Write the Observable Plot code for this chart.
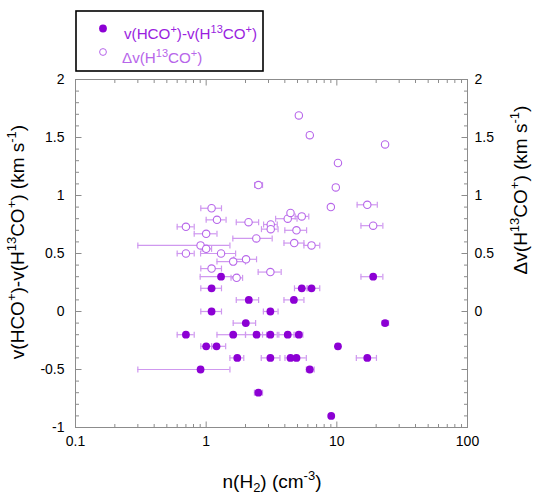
<!DOCTYPE html>
<html>
<head>
<meta charset="utf-8">
<script src="https://cdn.jsdelivr.net/npm/d3@7"></script>
<script src="https://cdn.jsdelivr.net/npm/@observablehq/plot@0.6"></script>
<style>
  html, body { margin: 0; padding: 0; background: #fff; }
  #chart { position: relative; width: 545px; height: 497px; }
</style>
</head>
<body>
<div id="chart"></div>
<script>
// ---- Data: v(HCO+)-v(H13CO+) (filled) ----
const filledX  = [1.30, 1.10, 5.39, 6.40, 2.12, 4.69, 18.97, 1.10, 3.10, 2.01, 23.4, 0.70, 1.61, 2.43, 3.10, 4.21, 5.12, 1.00, 1.20, 10.2, 1.73, 3.10, 4.42, 4.91, 17.1, 0.906, 6.21, 2.51, 9.06];
const filledY  = [0.30, 0.20, 0.20, 0.20, 0.10, 0.10, 0.30, 0.00, 0.00, -0.10, -0.10, -0.20, -0.20, -0.20, -0.20, -0.20, -0.20, -0.30, -0.30, -0.30, -0.40, -0.40, -0.40, -0.40, -0.40, -0.50, -0.50, -0.70, -0.90];
const filledLo = [0.90, 0.91, 4.74, 5.93, 1.70, 3.94, 15.3, 0.91, 2.74, 1.61, 22.2, 0.60, 1.21, 2.00, 2.70, 3.60, 4.70, 0.91, 1.10, 9.8, 1.52, 2.64, 4.01, 4.50, 14.1, 0.30, 5.84, 2.34, null];
const filledHi = [1.75, 1.31, 5.93, 7.40, 2.52, 5.60, 22.5, 1.31, 3.55, 2.39, 24.9, 0.81, 2.00, 2.90, 3.50, 4.80, 5.50, 1.10, 1.41, 10.6, 1.94, 3.67, 4.90, 5.84, 20.1, 1.52, 6.71, 2.70, null];

// ---- Data: Δv(H13CO+) (open) ----
const openX  = [2.51, 1.10, 1.21, 2.11, 3.12, 3.12, 4.21, 4.42, 5.39, 4.91, 0.70, 1.00, 2.42, 0.906, 1.00, 0.70, 1.30, 2.02, 1.61, 1.10, 3.10, 1.71, 4.72, 6.40, 5.12, 6.21, 23.4, 10.2, 9.82, 9.00, 17.1, 18.97];
const openY  = [1.09, 0.89, 0.79, 0.77, 0.75, 0.71, 0.80, 0.85, 0.82, 0.70, 0.73, 0.67, 0.63, 0.57, 0.54, 0.50, 0.50, 0.45, 0.43, 0.37, 0.34, 0.29, 0.59, 0.57, 1.69, 1.52, 1.44, 1.28, 1.07, 0.90, 0.92, 0.74];
const openLo = [2.35, 0.91, 1.00, 1.70, 2.75, 2.65, 3.40, 4.30, 4.80, 4.00, 0.60, 0.81, 1.60, 0.30, 0.93, 0.60, 0.906, 1.63, 1.21, 0.91, 2.50, 1.55, 3.94, 5.60, 4.90, 5.90, 22.5, 9.8, 9.5, null, 14.3, 15.3];
const openHi = [2.70, 1.31, 1.42, 2.52, 3.50, 3.55, 4.96, 4.55, 6.10, 5.87, 0.81, 1.21, 3.20, 1.52, 1.10, 0.81, 1.68, 2.43, 2.00, 1.31, 3.75, 1.90, 5.60, 7.40, 5.35, 6.50, 24.3, 10.6, 10.1, null, 20.4, 22.5];

// ---- Tick labels ----
const xTickLabels = [0.1, 1, 10, 100];
const yLeftTicks = [-1, -0.5, 0, 0.5, 1, 1.5, 2];
const yRightTicks = [0, 0.5, 1, 1.5, 2];

const filled = filledX.map((x, i) => ({x, y: filledY[i], lo: filledLo[i], hi: filledHi[i]}));
const open = openX.map((x, i) => ({x, y: openY[i], lo: openLo[i], hi: openHi[i]}));
const filledErr = filled.filter(d => d.lo != null);
const openErr = open.filter(d => d.lo != null);

const xMinor = [];
for (const dec of [0.1, 1, 10]) for (let k = 2; k <= 9; k++) xMinor.push(+(k * dec).toPrecision(3));
const yMinor = d3.range(-10, 21).map(k => k / 10).filter(v => !yLeftTicks.includes(v));

const seg = (x1, y1, x2, y2) => ({draw(ctx) { ctx.moveTo(x1, y1); ctx.lineTo(x2, y2); }});
const MAJ = 6, MIN = 3.5;
const gray = "#8c8c8c";
const filledColor = "#8c00d4";
const openColor = "#b766ea";
const errColor = "#cf98ef";

function tickMarks() {
  const o = {stroke: gray, strokeWidth: 1, fill: "none"};
  return [
    Plot.dot(xTickLabels, {x: d => d, frameAnchor: "bottom", symbol: seg(0, 0, 0, -MAJ), ...o}),
    Plot.dot(xMinor, {x: d => d, frameAnchor: "bottom", symbol: seg(0, 0, 0, -MIN), ...o}),
    Plot.dot(xTickLabels, {x: d => d, frameAnchor: "top", symbol: seg(0, 0, 0, MAJ), ...o}),
    Plot.dot(xMinor, {x: d => d, frameAnchor: "top", symbol: seg(0, 0, 0, MIN), ...o}),
    Plot.dot(yLeftTicks, {y: d => d, frameAnchor: "left", symbol: seg(0, 0, MAJ, 0), ...o}),
    Plot.dot(yMinor, {y: d => d, frameAnchor: "left", symbol: seg(0, 0, MIN, 0), ...o}),
    Plot.dot(yLeftTicks, {y: d => d, frameAnchor: "right", symbol: seg(0, 0, -MAJ, 0), ...o}),
    Plot.dot(yMinor, {y: d => d, frameAnchor: "right", symbol: seg(0, 0, -MIN, 0), ...o})
  ];
}

const cap = seg(0, -3, 0, 3);

const svg = Plot.plot({
  width: 545,
  height: 497,
  marginLeft: 75,
  marginRight: 78,
  marginTop: 79,
  marginBottom: 70,
  style: {fontFamily: "'Liberation Sans', Arial, sans-serif", fontSize: "14px", color: "#000", background: "#fff"},
  x: {type: "log", domain: [0.1, 100]},
  y: {domain: [-1, 2]},
  marks: [
    Plot.axisX({ticks: xTickLabels, tickFormat: d => String(d), tickSize: 0, tickPadding: 9, fontSize: 14, label: null}),
    Plot.axisY({anchor: "left", ticks: yLeftTicks, tickFormat: d => String(d), tickSize: 0, tickPadding: 11, fontSize: 14, label: null}),
    Plot.axisY({anchor: "right", ticks: yRightTicks, tickFormat: d => String(d), tickSize: 0, tickPadding: 7, fontSize: 14, label: null}),
    // error bars
    Plot.ruleY(openErr, {y: "y", x1: "lo", x2: "hi", stroke: errColor, strokeWidth: 1.2}),
    Plot.dot(openErr, {x: "lo", y: "y", symbol: cap, stroke: errColor, strokeWidth: 1.2, fill: "none"}),
    Plot.dot(openErr, {x: "hi", y: "y", symbol: cap, stroke: errColor, strokeWidth: 1.2, fill: "none"}),
    Plot.ruleY(filledErr, {y: "y", x1: "lo", x2: "hi", stroke: errColor, strokeWidth: 1.2}),
    Plot.dot(filledErr, {x: "lo", y: "y", symbol: cap, stroke: errColor, strokeWidth: 1.2, fill: "none"}),
    Plot.dot(filledErr, {x: "hi", y: "y", symbol: cap, stroke: errColor, strokeWidth: 1.2, fill: "none"}),
    // points
    Plot.dot(open, {x: "x", y: "y", r: 3.7, stroke: openColor, strokeWidth: 1.1, fill: "white"}),
    Plot.dot(filled, {x: "x", y: "y", r: 3.9, fill: filledColor, stroke: "none"}),
    ...tickMarks(),
    Plot.frame({stroke: gray, strokeWidth: 1})
  ]
});

// ---- Texts with super/subscripts ----
const s = d3.select(svg);
function richText(g, parts, size, color, anchor) {
  const t = g.append("text").attr("fill", color).attr("font-size", size)
    .attr("text-anchor", anchor)
    .attr("font-family", "'Liberation Sans', Arial, sans-serif");
  const small = Math.round(size * 0.7);
  let pending = 0;
  for (const [str, kind] of parts) {
    const sp = t.append("tspan").text(str);
    if (!kind) {
      if (pending) sp.attr("dy", -pending);
      pending = 0;
    } else {
      const shift = kind === "sup" ? -size * 0.42 : size * 0.22;
      sp.attr("dy", shift - pending).attr("font-size", small);
      pending = shift;
    }
  }
  return t;
}

const leftTitle = [["v(HCO"], ["+", "sup"], [")-v(H"], ["13", "sup"], ["CO"], ["+", "sup"], [") (km s"], ["-1", "sup"], [")"]];
const rightTitle = [["\u0394v(H"], ["13", "sup"], ["CO"], ["+", "sup"], [") (km s"], ["-1", "sup"], [")"]];
const xTitle = [["n(H"], ["2", "sub"], [") (cm"], ["-3", "sup"], [")"]];

richText(s.append("g").attr("transform", "translate(24,242) rotate(-90)"), leftTitle, 19, "#000", "middle");
richText(s.append("g").attr("transform", "translate(527,190) rotate(-90)"), rightTitle, 19, "#000", "middle");
richText(s.append("g").attr("transform", "translate(272,488)"), xTitle, 19, "#000", "middle");

// ---- Legend ----
const lg = s.append("g");
lg.append("rect").attr("x", 76).attr("y", 11).attr("width", 187).attr("height", 60)
  .attr("fill", "white").attr("stroke", "#000").attr("stroke-width", 1.6);
lg.append("circle").attr("cx", 103).attr("cy", 28.5).attr("r", 3.9).attr("fill", filledColor);
lg.append("circle").attr("cx", 103).attr("cy", 52).attr("r", 3.4).attr("fill", "white").attr("stroke", openColor).attr("stroke-width", 1);
richText(lg.append("g").attr("transform", "translate(124,39)"),
  [["v(HCO"], ["+", "sup"], [")-v(H"], ["13", "sup"], ["CO"], ["+", "sup"], [")"]], 15.2, "#9a1ee0", "start");
richText(lg.append("g").attr("transform", "translate(122,63)"),
  [["\u0394v(H"], ["13", "sup"], ["CO"], ["+", "sup"], [")"]], 15.2, openColor, "start");

document.getElementById("chart").appendChild(svg);
</script>
</body>
</html>
